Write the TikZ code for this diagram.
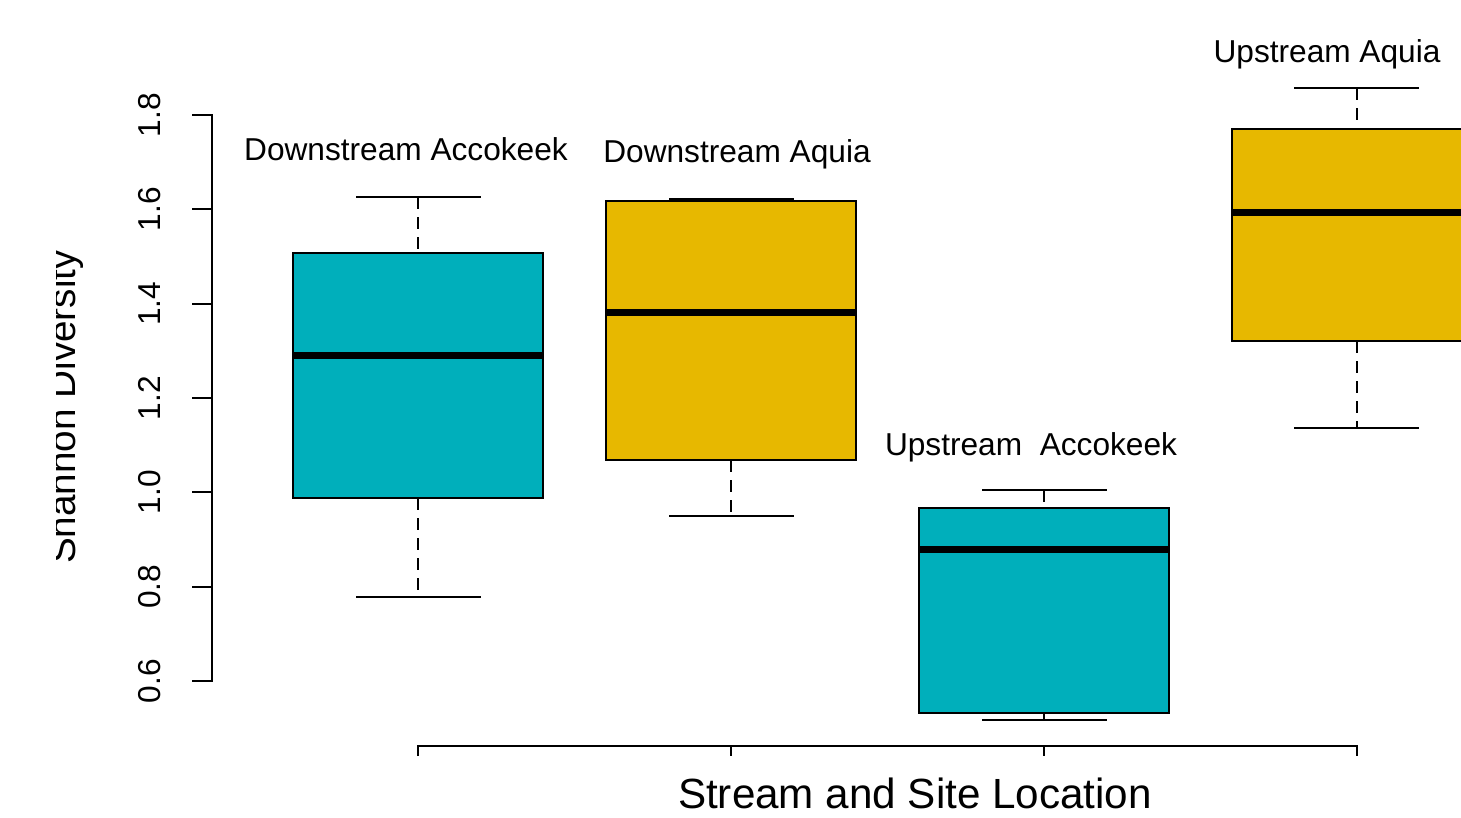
\documentclass[tikz,border=0pt]{standalone}
\usepackage{fontspec}
\setmainfont{Liberation Sans}
\definecolor{boxteal}{HTML}{00AFBB}
\definecolor{boxgold}{HTML}{E7B800}

\tikzset{
  box/.style={draw=black,line width=0.5pt},
  whisk/.style={line width=0.55pt,dash pattern=on 3.3pt off 2.4pt},
  whiskcap/.style={line width=0.55pt},
  med/.style={line width=2pt},
  lab/.style={font=\fontsize{9}{11}\selectfont,anchor=base,inner sep=0pt},
  title/.style={font=\fontsize{12}{14}\selectfont,anchor=base,inner sep=0pt},
}

\begin{document}
\begin{tikzpicture}[x=0.01cm,y=-0.01cm]
  \useasboundingbox (0,0) rectangle (1461,817);

  % y axis
  \draw[line width=0.6pt] (192,115) -- (212,115) -- (212,681) -- (192,681);
  \foreach \t [count=\i] in {0.6,0.8,1.0,1.2,1.4,1.6,1.8} {
    \pgfmathsetmacro\ty{681-94.33*(\i-1)}
    \draw[line width=0.6pt] (192,\ty) -- (212,\ty);
    \node[lab,rotate=90] (tick\i) at (160,\ty) {\t};
  }
  \begin{scope}
    \clip (56,0) rectangle (1461,817);
    \node[title,font=\fontsize{11}{13}\selectfont,rotate=90] (ylab) at (75,407) {Shannon Diversity};
  \end{scope}

  % x axis
  \draw[line width=0.6pt] (418,756) -- (418,746) -- (1357,746) -- (1357,756)
    (731,746) -- (731,756) (1044,746) -- (1044,756);
  \node[title] (xlab) at (915,808) {Stream and Site Location};

  % Downstream Accokeek
  \draw[whisk] (418,197) -- (418,253) (418,498) -- (418,597);
  \draw[whiskcap] (356,197) -- (481,197) (356,597) -- (481,597);
  \draw[box,fill=boxteal] (293,253) rectangle (543,498);
  \draw[med] (293,355) -- (543,355);

  % Downstream Aquia
  \draw[whisk] (731,460) -- (731,516);
  \draw[whiskcap] (669,199) -- (794,199) (669,516) -- (794,516);
  \draw[box,fill=boxgold] (606,201) rectangle (856,460);
  \draw[med] (606,312) -- (856,312);

  % Upstream Accokeek
  \draw[whisk] (1044,490) -- (1044,508) (1044,713) -- (1044,720);
  \draw[whiskcap] (982,490) -- (1107,490) (982,720) -- (1107,720);
  \draw[box,fill=boxteal] (919,508) rectangle (1169,713);
  \draw[med] (919,549) -- (1169,549);

  % Upstream Aquia
  \draw[whisk] (1357,88) -- (1357,129) (1357,341) -- (1357,428);
  \draw[whiskcap] (1294,88) -- (1419,88) (1294,428) -- (1419,428);
  \draw[box,fill=boxgold] (1232,129) rectangle (1482,341);
  \draw[med] (1232,212) -- (1482,212);

  \node[lab] (dnacc) at (406,160) {Downstream Accokeek};
  \node[lab] (dnaqu) at (737,162) {Downstream Aquia};
  \node[lab] (upacc) at (1031,455) {Upstream\ \ Accokeek};
  \node[lab] (upaqu) at (1327,62) {Upstream Aquia};
\end{tikzpicture}
\end{document}
